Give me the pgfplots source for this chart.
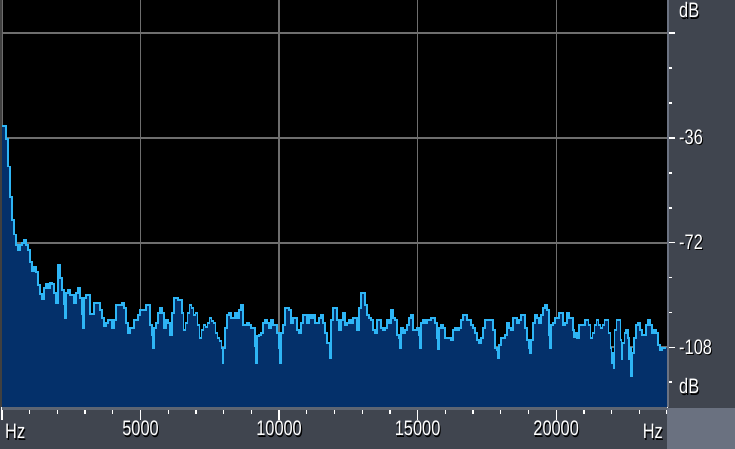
\documentclass[border=0pt]{standalone}
\usepackage{graphicx}
\usepackage{pgfplots}
\pgfplotsset{compat=1.18}
\usepackage{pgfplotstable}
\usepackage{fontspec}
\setmainfont{Liberation Sans}
\definecolor{panel}{HTML}{40454F}
\definecolor{panellight}{HTML}{6A7180}
\definecolor{strip}{HTML}{5E6572}
\definecolor{edge}{HTML}{6C7382}
\definecolor{gridc}{HTML}{6E6E6E}
\definecolor{navy}{HTML}{04306A}
\definecolor{spec}{HTML}{2EB5F5}
\newcommand{\sh}[1]{\scalebox{0.78}[1]{\makebox[0pt][l]{\kern1.4pt\raisebox{-1.2pt}{\textcolor{black}{#1}}}\textcolor{white}{#1}}}
\newcommand{\lab}{\fontsize{21}{22}\selectfont}

\pgfplotstableread{
x y
0 -32.0
144 -36.2
216 -45.8
288 -56.2
360 -64.1
432 -69.2
504 -72.7
576 -74.4
648 -72.7
720 -72.0
792 -71.0
864 -72.7
936 -74.4
1008 -78.5
1080 -81.6
1152 -80.3
1224 -82.0
1296 -86.5
1368 -89.6
1440 -91.3
1512 -87.5
1584 -86.1
1656 -87.5
1728 -85.8
1800 -86.1
1872 -89.2
1944 -92.7
2016 -79.6
2088 -84.1
2160 -88.2
2232 -93.0
2268 -97.8
2304 -89.2
2376 -88.2
2448 -89.9
2520 -89.9
2592 -92.7
2664 -89.2
2736 -87.5
2808 -90.9
2880 -96.5
2916 -101.3
2952 -90.9
3024 -89.9
3096 -89.9
3168 -96.5
3240 -96.5
3312 -92.7
3384 -92.7
3456 -92.7
3528 -95.1
3600 -97.8
3672 -100.6
3744 -99.6
3816 -98.5
3888 -98.5
3960 -101.3
4032 -98.5
4104 -93.4
4176 -93.4
4248 -93.4
4320 -92.7
4392 -94.4
4464 -99.6
4536 -103.0
4608 -101.3
4680 -101.3
4752 -98.5
4824 -98.5
4896 -96.8
4968 -95.1
5040 -95.1
5112 -95.1
5184 -93.4
5256 -93.4
5328 -100.2
5400 -103.7
5436 -108.2
5472 -101.3
5544 -99.6
5616 -96.1
5688 -94.4
5760 -96.1
5832 -101.3
5904 -98.5
5976 -99.6
6048 -103.7
6120 -96.1
6192 -90.9
6264 -90.9
6336 -91.6
6408 -91.6
6480 -96.1
6552 -102.0
6624 -99.6
6696 -96.1
6768 -93.4
6840 -94.4
6912 -96.8
6984 -96.1
7056 -100.2
7128 -104.7
7200 -102.0
7272 -100.2
7344 -100.9
7416 -99.6
7488 -97.8
7560 -98.9
7632 -99.6
7704 -103.0
7776 -104.7
7848 -105.8
7920 -108.2
7956 -113.3
7992 -108.2
8064 -101.3
8136 -96.8
8208 -96.1
8280 -97.8
8352 -97.8
8424 -96.1
8496 -97.8
8568 -95.1
8640 -93.4
8712 -100.2
8784 -100.2
8856 -99.6
8928 -100.2
9000 -101.3
9072 -101.3
9144 -107.5
9180 -113.3
9216 -104.0
9288 -103.7
9360 -103.0
9432 -99.6
9504 -98.5
9576 -99.6
9648 -101.3
9720 -98.5
9792 -100.2
9864 -100.2
9936 -103.0
10008 -108.2
10044 -113.3
10080 -103.0
10152 -100.2
10224 -94.4
10296 -94.4
10368 -95.1
10440 -99.6
10512 -97.8
10584 -97.8
10656 -102.0
10728 -103.0
10800 -99.6
10872 -96.8
10944 -96.8
11016 -99.6
11088 -96.8
11160 -97.8
11232 -96.8
11304 -99.6
11376 -99.6
11448 -97.8
11520 -96.8
11592 -99.6
11664 -103.0
11736 -106.5
11808 -106.5
11844 -111.6
11880 -98.5
11952 -94.4
12024 -94.4
12096 -98.5
12168 -102.0
12240 -98.5
12312 -96.1
12384 -100.2
12456 -99.6
12528 -98.5
12600 -99.6
12672 -97.8
12744 -97.8
12816 -102.0
12888 -94.4
12960 -89.2
13032 -89.2
13104 -93.4
13176 -96.8
13248 -97.8
13320 -98.5
13392 -102.0
13464 -103.0
13536 -98.5
13608 -98.5
13680 -101.3
13752 -102.0
13824 -101.3
13896 -98.5
13968 -99.6
14040 -95.1
14112 -97.8
14184 -98.5
14256 -103.7
14328 -104.7
14364 -108.2
14400 -101.3
14472 -103.0
14544 -102.0
14616 -100.2
14688 -97.8
14760 -96.8
14832 -102.0
14904 -102.0
14976 -101.3
15048 -103.7
15084 -108.2
15120 -99.6
15192 -98.5
15264 -99.6
15336 -98.5
15408 -98.5
15480 -97.8
15552 -97.8
15624 -99.6
15696 -104.7
15732 -108.5
15768 -101.3
15840 -100.2
15912 -101.3
15984 -104.7
16056 -104.7
16128 -104.7
16200 -105.4
16272 -102.0
16344 -101.3
16416 -102.0
16488 -101.3
16560 -98.5
16632 -96.8
16704 -96.8
16776 -98.5
16848 -98.5
16920 -100.2
16992 -101.3
17064 -103.0
17136 -105.4
17208 -106.5
17280 -104.7
17352 -101.3
17424 -98.5
17496 -98.5
17568 -98.5
17640 -98.5
17712 -102.0
17784 -108.2
17856 -108.9
17892 -111.6
17928 -107.1
18000 -104.7
18072 -104.7
18144 -103.7
18216 -99.6
18288 -101.3
18360 -102.0
18432 -97.8
18504 -97.8
18576 -99.6
18648 -98.5
18720 -96.8
18792 -96.8
18864 -101.3
18936 -105.4
19008 -108.2
19044 -109.9
19080 -105.4
19152 -99.6
19224 -96.8
19296 -97.8
19368 -99.6
19440 -96.8
19512 -94.4
19584 -93.4
19656 -95.1
19728 -103.7
19764 -108.2
19800 -100.2
19872 -99.6
19944 -97.8
20016 -97.8
20088 -96.1
20160 -96.1
20232 -100.2
20304 -99.6
20376 -96.1
20448 -97.8
20520 -97.8
20592 -102.0
20628 -104.5
20664 -103.0
20736 -104.7
20808 -100.2
20880 -100.2
20952 -100.2
21024 -98.5
21096 -98.5
21168 -100.2
21240 -104.7
21312 -103.0
21384 -100.2
21456 -98.5
21528 -100.2
21600 -101.3
21672 -100.2
21744 -98.5
21816 -98.5
21888 -103.0
21960 -108.2
21996 -113.3
22032 -109.9
22068 -115.1
22104 -102.0
22176 -98.5
22248 -98.5
22320 -105.4
22356 -112.0
22392 -106.5
22464 -103.0
22536 -102.0
22608 -104.7
22644 -112.0
22680 -108.2
22716 -117.8
22752 -109.9
22824 -104.7
22896 -100.2
22968 -99.6
23040 -102.0
23112 -103.7
23184 -103.7
23256 -100.2
23328 -98.5
23400 -100.2
23472 -103.0
23544 -102.0
23616 -103.0
23688 -107.1
23760 -108.9
23832 -108.2
23904 -108.2
23976 -108.2
}\spectab

\begin{document}
\begin{tikzpicture}
\useasboundingbox (0pt,0pt) rectangle (735pt,449pt);
\fill[panel] (0pt,0pt) rectangle (735pt,449pt);
\begin{axis}[
  at={(2pt,42pt)}, anchor=south west,
  scale only axis, width=665pt, height=407pt,
  xmin=0, xmax=24000, ymin=-128.5, ymax=11.45,
  axis background/.style={fill=black},
  axis line style={draw=none},
  xtick={0,5000,10000,15000,20000},
  xticklabels={,{\sh{5000}},{\sh{10000}},{\sh{15000}},{\sh{20000}}},
  minor xtick={1000,2000,3000,4000,6000,7000,8000,9000,11000,12000,13000,14000,16000,17000,18000,19000,21000,22000,23000,24000},
  ytick={-108,-72,-36,0},
  yticklabels={},
  xtick pos=left,
  ytick pos=right,
  tick align=outside,
  major tick length=13pt, minor tick length=7pt,
  xtick style={white, line width=1.3pt},
  ytick style={draw=none},
  xmajorgrids, ymajorgrids,
  x grid style={gridc, line width=1.2pt},
  y grid style={gridc, line width=2.2pt},
  xticklabel style={font=\lab, anchor=north, inner sep=0pt, yshift=-1pt},
  scaled x ticks=false,
]
\addplot[const plot, fill=navy, draw=none] table[x=x,y=y]{\spectab} -| (axis cs:24000,-140) -- (axis cs:0,-140) -- cycle;
\addplot[const plot, draw=spec, line width=1.9pt] table[x=x,y=y]{\spectab};
\end{axis}
\begin{axis}[
  at={(2pt,42pt)}, anchor=south west,
  scale only axis, width=665pt, height=407pt,
  xmin=0, xmax=24000, ymin=-128.5, ymax=11.45,
  axis line style={draw=none},
  xtick=\empty,
  ytick={-108,-72,-36,0},
  yticklabels={{\sh{-108}},{\sh{-72}},{\sh{-36}},},
  minor ytick={-120,-96,-84,-60,-48,-24,-12},
  ytick pos=right,
  tick align=outside,
  major tick length=8pt, minor tick length=5pt,
  ytick style={white, line width=1.6pt},
  yticklabel style={font=\lab, anchor=west, inner sep=0pt, xshift=4pt},
]
\addplot[draw=none] coordinates {(1000,-50) (2000,-60)};
\end{axis}
\fill[black!75] (0pt,42pt) rectangle (2pt,449pt);
\fill[strip] (2pt,39pt) rectangle (667pt,42pt);
\fill[edge] (667pt,42pt) rectangle (669pt,449pt);
\fill[panellight] (667pt,0pt) rectangle (735pt,41pt);
\node[anchor=base west, inner sep=0pt, font=\lab] at (5pt,10pt) {\sh{Hz}};
\node[anchor=base east, inner sep=0pt, font=\lab] at (663pt,10pt) {\sh{Hz}};
\node[anchor=base west, inner sep=0pt, font=\lab] at (679pt,431pt) {\sh{dB}};
\node[anchor=base west, inner sep=0pt, font=\lab] at (679pt,55pt) {\sh{dB}};
\end{tikzpicture}
\end{document}
